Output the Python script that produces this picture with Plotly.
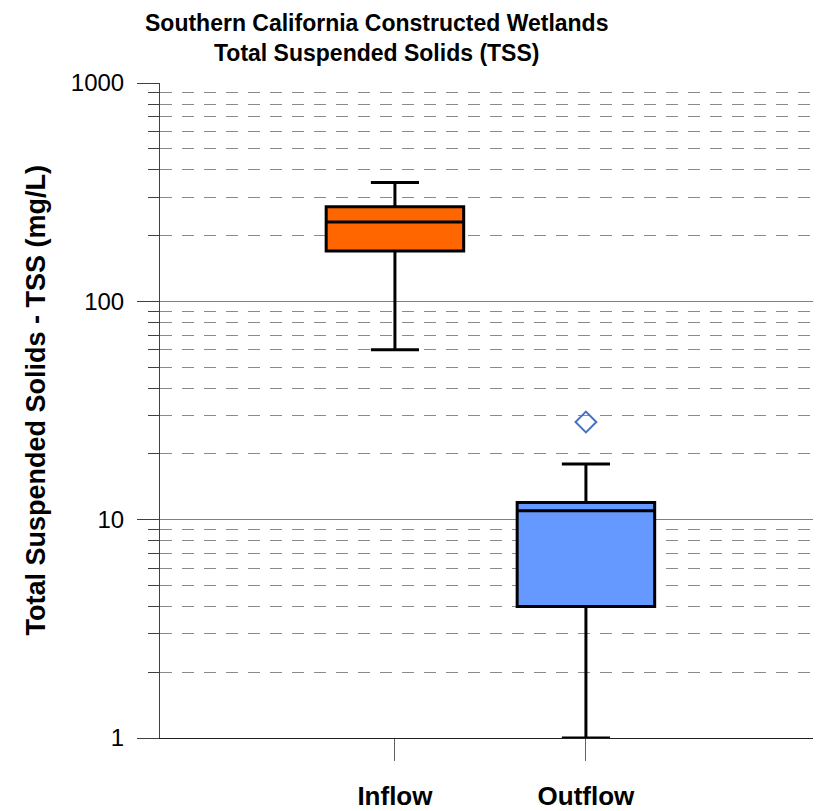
import plotly.graph_objects as go

categories = ["Inflow", "Outflow"]
lower_whisker = [60, 1]
q1_vals = [170, 4]
median_vals = [231, 11]
q3_vals = [271, 12]
upper_whisker = [350, 18]
box_colors = ["#FF6600", "#6699FF"]
outlier_cat = ["Outflow"]
outlier_vals = [28]

y_tickvals = [1, 10, 100, 1000]
y_ticktext = ["1", "10", "100", "1000"]

title_lines = ["Southern California Constructed Wetlands", "Total Suspended Solids (TSS)"]
y_title = "Total Suspended Solids - TSS (mg/L)"

fig = go.Figure()
for i, c in enumerate(categories):
    fig.add_trace(go.Box(
        x=[c], q1=[q1_vals[i]], median=[median_vals[i]], q3=[q3_vals[i]],
        lowerfence=[lower_whisker[i]], upperfence=[upper_whisker[i]],
        fillcolor=box_colors[i], line=dict(color="black", width=3),
        whiskerwidth=0.35, width=0.72, boxpoints=False, showlegend=False,
    ))

fig.add_trace(go.Scatter(
    x=outlier_cat, y=outlier_vals, mode="markers",
    marker=dict(symbol="diamond-open", size=16, color="#4472C4", line=dict(width=2, color="#4472C4")),
    showlegend=False,
))

# page body has an 8px margin; figure sized to fit the 821x811 window
W, H = 813, 803
L, R, T, B = 152, 3, 74.5, 72.5
fig.update_layout(
    width=W, height=H,
    margin=dict(l=L, r=R, t=T, b=B, autoexpand=False),
    paper_bgcolor="white", plot_bgcolor="white",
    font=dict(family="Liberation Sans, Arial, sans-serif", color="black"),
)

ph = H - T - B
pw = W - L - R
def ypaper(fig_y):
    return (H - B - fig_y) / ph
def xpaper(fig_x):
    return (fig_x - L) / pw

fig.add_annotation(text="<b>%s<br>%s</b>" % (title_lines[0], title_lines[1]),
                   xref="paper", yref="paper",
                   x=xpaper(368), y=ypaper(0), xanchor="center", yanchor="top",
                   borderpad=0, showarrow=False, font=dict(size=23, color="black"))
fig.add_annotation(text="<b>%s</b>" % y_title, xref="paper", yref="paper",
                   x=xpaper(28.5), y=ypaper(392), xanchor="center", yanchor="middle",
                   textangle=-90, showarrow=False, font=dict(size=27, color="black"))

fig.update_xaxes(
    type="category", range=[-1.23, 2.215], automargin=False,
    showline=True, linecolor="#202020", linewidth=1,
    ticks="outside", ticklen=22, tickcolor="#606060", tickwidth=1,
    tickfont=dict(size=26, color="black", family="Liberation Sans, Arial, sans-serif"),
    ticktext=["<b>Inflow</b>", "<b>Outflow</b>"], tickvals=categories,
    ticklabelstandoff=13,
    showgrid=False, zeroline=False,
)

fig.update_yaxes(
    type="log", range=[0, 3], automargin=False,
    showline=True, linecolor="#404040", linewidth=1,
    ticks="outside", ticklen=22, tickcolor="#404040", tickwidth=1,
    tickvals=y_tickvals, ticktext=y_ticktext,
    tickfont=dict(size=24, color="black"),
    ticklabelstandoff=8,
    showgrid=True, gridcolor="#808080", gridwidth=1,
    minor=dict(ticks="outside", ticklen=11, tickcolor="#404040", dtick="D1",
               showgrid=True, gridcolor="#8a8a8a", gridwidth=1, griddash="12px,10px"),
    zeroline=False,
)

fig.write_html("out.html")
